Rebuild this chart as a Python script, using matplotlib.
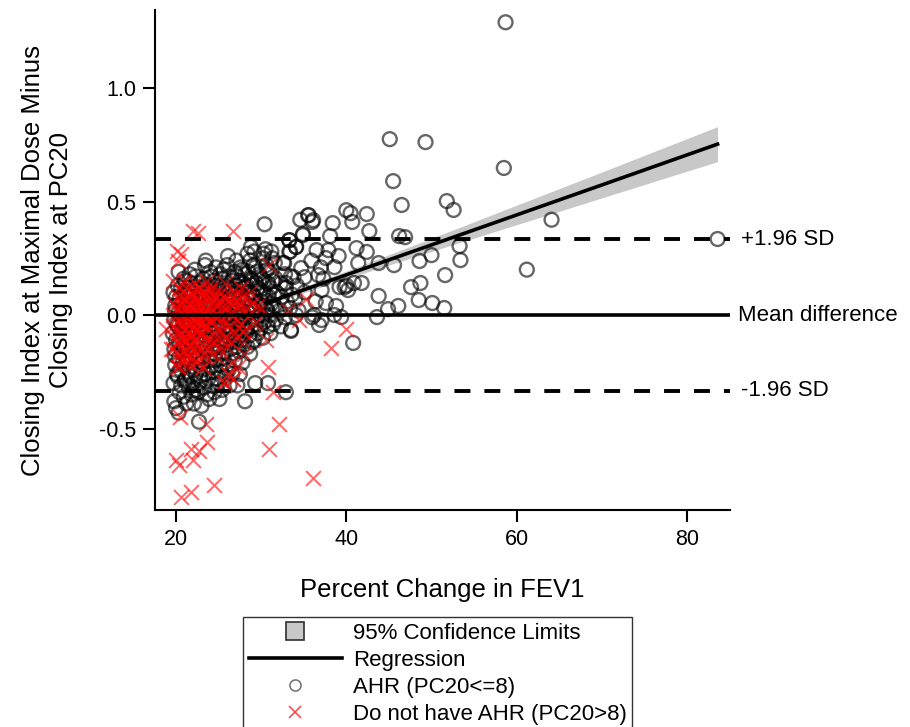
'''
Bland-Altman style plot of closing index difference vs percent change in FEV1
'''

import matplotlib
matplotlib.use('Agg')
import matplotlib.pyplot as plt
from matplotlib.lines import Line2D
from matplotlib.patches import Patch, Rectangle
from matplotlib.legend_handler import HandlerPatch

plt.rcParams['font.family'] = ['Liberation Sans', 'DejaVu Sans']

# AHR (PC20<=8) subjects, sparse points away from the main cluster
ahr_x = [58.7, 45.1, 49.3, 58.5, 45.5, 46.5, 51.8, 52.6, 64.1, 83.6, 61.2, 46.2, 46.9, 53.3,
         50.0, 53.4, 48.6, 51.6, 47.6, 48.7, 48.5, 50.1, 51.5, 46.1, 44.9, 43.8, 43.6, 45.6,
         43.8, 42.7, 42.4, 40.7, 40.0, 40.5, 38.4, 38.1, 36.1, 35.5, 34.9, 42.4, 41.2, 41.4,
         40.9, 41.8, 38.6, 37.6, 37.9, 36.5, 39.8, 40.2, 39.2, 36.7, 37.1, 37.6, 36.2, 37.1,
         38.6, 39.4, 35.1, 36.8, 35.6, 36.0, 34.9, 33.3, 34.7, 33.8, 32.7, 33.3, 34.1, 32.9,
         35.1, 37.0, 39.1, 40.0, 36.4, 38.8, 33.5, 40.8, 35.9, 37.3, 36.0, 34.4,
         19.8, 19.7, 19.9, 19.8, 19.6, 19.8, 19.9, 19.7,
         20.3, 20.4, 20.2, 20.3, 20.4, 20.2, 20.3, 20.4, 20.2, 20.3,
         20.9, 21.0, 20.8, 20.9, 21.0, 20.8, 20.9, 21.0, 20.9,
         21.5, 21.4, 21.6, 21.5, 21.4, 21.6, 21.5, 21.4, 21.6,
         22.1, 22.0, 22.2, 22.1, 22.0, 22.2, 22.1, 22.0, 22.2,
         22.7, 22.6, 22.8, 22.7, 22.6, 22.8, 22.7, 22.6, 22.8,
         23.3, 23.2, 23.4, 23.3, 23.2, 23.4, 23.3, 23.2, 23.4,
         23.9, 23.8, 24.0, 23.9, 23.8, 24.0, 23.9, 23.8, 24.0,
         24.5, 24.4, 24.6, 24.5, 24.4, 24.6, 24.5, 24.4,
         25.1, 25.0, 25.2, 25.1, 25.0, 25.2, 25.1, 25.0, 25.2,
         25.7, 25.6, 25.8, 25.7, 25.6, 25.8, 25.7, 25.6,
         26.3, 26.2, 26.4, 26.3, 26.2, 26.4, 26.3, 26.2, 26.1,
         26.9, 26.8, 27.0, 26.9, 26.8, 27.0, 26.9,
         27.5, 27.4, 27.6, 27.5, 27.4, 27.6, 27.5, 27.6,
         28.1, 28.0, 28.2, 28.1, 28.0, 28.2, 28.1, 28.8,
         28.7, 28.6, 28.8, 28.7, 28.6, 28.8, 28.7,
         29.3, 29.2, 29.4, 29.3, 29.2, 29.4, 29.3, 29.2,
         29.9, 29.8, 30.0, 29.9, 29.8, 30.2,
         30.8, 30.4, 30.6, 30.5, 30.4, 30.6, 30.5, 30.4,
         31.1, 31.0, 31.2, 31.1, 31.0, 31.2,
         31.7, 31.6, 31.8, 31.7, 31.6,
         32.3, 32.2, 32.4, 32.3, 32.6,
         32.9, 32.8, 33.0, 32.9, 32.8,
         33.5, 33.4, 33.6, 33.5, 33.4, 33.3,
         34.1, 34.0, 34.2, 34.1, 34.6]
ahr_y = [1.29, 0.775, 0.762, 0.648, 0.59, 0.485, 0.502, 0.463, 0.42, 0.335, 0.20, 0.348, 0.343, 0.304,
         0.264, 0.242, 0.238, 0.176, 0.123, 0.141, 0.066, 0.053, 0.031, 0.040, 0.026, 0.084, -0.009, 0.22,
         0.229, 0.37, 0.445, 0.41, 0.462, 0.449, 0.405, 0.348, 0.418, 0.44, 0.352, 0.278, 0.295, 0.229,
         0.141, 0.141, 0.211, 0.251, 0.286, 0.286, 0.123, 0.11, 0.123, 0.176, 0.11, 0.053, 0.0, -0.022,
         0.0, -0.009, 0.167, -0.044, 0.44, 0.41, 0.357, 0.33, 0.207, 0.167, 0.229, 0.278, 0.30, 0.141,
         0.10, 0.21, 0.26, 0.13, 0.06, 0.04, -0.066, -0.123, 0.24, 0.16, -0.01, 0.02,
         -0.38, -0.30, -0.22, -0.15, -0.08, -0.02, 0.04, 0.10,
         -0.43, -0.34, -0.27, -0.19, -0.12, -0.05, 0.01, 0.07, 0.13, 0.19,
         -0.36, -0.29, -0.21, -0.14, -0.09, -0.03, 0.03, 0.09, 0.16,
         -0.32, -0.25, -0.18, -0.11, -0.06, 0.0, 0.05, 0.12, 0.18,
         -0.39, -0.30, -0.23, -0.16, -0.08, -0.02, 0.04, 0.10, 0.20,
         -0.47, -0.34, -0.27, -0.19, -0.12, -0.05, 0.02, 0.08, 0.14,
         -0.32, -0.24, -0.15, -0.09, -0.03, 0.03, 0.09, 0.16, 0.22,
         -0.37, -0.28, -0.20, -0.12, -0.06, 0.0, 0.06, 0.12, 0.19,
         -0.34, -0.25, -0.17, -0.10, -0.04, 0.02, 0.08, 0.15,
         -0.37, -0.30, -0.22, -0.14, -0.07, 0.0, 0.05, 0.11, 0.18,
         -0.27, -0.19, -0.11, -0.05, 0.02, 0.07, 0.13, 0.20,
         -0.31, -0.24, -0.15, -0.08, -0.02, 0.04, 0.10, 0.17, 0.26,
         -0.20, -0.12, -0.05, 0.01, 0.07, 0.13, 0.19,
         -0.26, -0.16, -0.09, -0.03, 0.03, 0.09, 0.15, 0.21,
         -0.38, -0.13, -0.06, 0.0, 0.06, 0.12, 0.18, 0.30,
         -0.17, -0.09, -0.02, 0.04, 0.10, 0.16, 0.24,
         -0.30, -0.11, -0.04, 0.02, 0.08, 0.14, 0.21, 0.28,
         -0.06, 0.0, 0.06, 0.11, 0.18, 0.25,
         -0.30, -0.03, 0.03, 0.09, 0.15, 0.22, 0.29, 0.40,
         -0.08, 0.0, 0.05, 0.12, 0.19, 0.28,
         -0.02, 0.04, 0.10, 0.16, 0.23,
         -0.05, 0.02, 0.08, 0.14, 0.23,
         -0.34, -0.01, 0.06, 0.12, 0.18,
         -0.07, 0.03, 0.09, 0.17, 0.28, 0.33,
         0.0, 0.07, 0.13, 0.30, 0.42]

# AHR subjects, second pass over the crowded region (x 20-31)
ahr_core_x = [20.0, 20.1, 19.9, 20.0, 20.1, 19.9, 20.0,
              20.6, 20.5, 20.7, 20.6, 20.5, 20.7, 20.6,
              21.2, 21.1, 21.3, 21.2, 21.1, 21.3, 21.2, 21.1,
              21.8, 21.7, 21.9, 21.8, 21.7, 21.9, 21.8,
              22.4, 22.3, 22.5, 22.4, 22.3, 22.5, 22.4, 22.3,
              23.0, 22.9, 23.1, 23.0, 22.9, 23.1, 23.0, 22.9,
              23.6, 23.5, 23.7, 23.6, 23.5, 23.7, 23.6, 23.5,
              24.2, 24.1, 24.3, 24.2, 24.1, 24.3, 24.2, 24.1,
              24.8, 24.7, 24.9, 24.8, 24.7, 24.9, 24.8, 24.7,
              25.4, 25.3, 25.5, 25.4, 25.3, 25.5, 25.4, 25.3,
              26.0, 25.9, 26.1, 26.0, 25.9, 26.1, 26.0,
              26.6, 26.5, 26.7, 26.6, 26.5, 26.7, 26.6,
              27.2, 27.1, 27.3, 27.2, 27.1, 27.3, 27.2, 27.1,
              27.8, 27.7, 27.9, 27.8, 27.7, 27.9, 27.8,
              28.4, 28.3, 28.5, 28.4, 28.3, 28.5, 28.4,
              29.0, 28.9, 29.1, 29.0, 28.9, 29.1,
              29.6, 29.5, 29.7, 29.6, 29.5,
              30.2, 30.1, 30.3, 30.2, 30.1, 30.3,
              30.8, 30.7, 30.9, 30.8, 30.7,
              31.4, 31.3, 31.5, 31.4, 31.3]
ahr_core_y = [-0.41, -0.26, -0.18, -0.11, -0.04, 0.02, 0.08,
              -0.31, -0.24, -0.16, -0.07, 0.0, 0.05, 0.12,
              -0.39, -0.28, -0.20, -0.13, -0.04, 0.02, 0.09, 0.15,
              -0.35, -0.27, -0.14, -0.07, 0.02, 0.08, 0.14,
              -0.33, -0.26, -0.19, -0.11, -0.04, 0.06, 0.12, 0.17,
              -0.40, -0.29, -0.21, -0.13, -0.06, 0.0, 0.06, 0.12,
              -0.35, -0.26, -0.18, -0.11, -0.01, 0.05, 0.13, 0.24,
              -0.31, -0.23, -0.15, -0.08, -0.02, 0.04, 0.10, 0.17,
              -0.28, -0.20, -0.13, -0.06, 0.01, 0.06, 0.13, 0.21,
              -0.33, -0.25, -0.17, -0.10, -0.03, 0.04, 0.09, 0.16,
              -0.22, -0.13, -0.06, 0.0, 0.06, 0.12, 0.22,
              -0.26, -0.17, -0.10, -0.03, 0.03, 0.09, 0.15,
              -0.31, -0.14, -0.07, 0.0, 0.05, 0.11, 0.17, 0.24,
              -0.21, -0.11, -0.04, 0.02, 0.08, 0.14, 0.20,
              -0.14, -0.07, 0.01, 0.07, 0.13, 0.19, 0.27,
              -0.12, -0.05, 0.03, 0.09, 0.15, 0.22,
              -0.08, -0.01, 0.05, 0.12, 0.19,
              -0.10, -0.02, 0.04, 0.10, 0.16, 0.27,
              -0.05, 0.02, 0.08, 0.14, 0.20,
              -0.04, 0.03, 0.09, 0.15, 0.25]

# no AHR (PC20>8) subjects
noahr_x = [19.7, 19.8, 19.6, 19.7, 19.8, 19.7,
           20.2, 20.3, 20.1, 20.2, 20.3, 20.1, 20.2, 20.2, 20.1,
           20.7, 20.8, 20.6, 20.7, 20.8, 20.6, 20.7, 20.9, 20.6,
           21.2, 21.3, 21.1, 21.2, 21.3, 21.1, 21.2,
           21.7, 21.8, 21.6, 21.7, 21.8, 21.6, 21.7,
           22.2, 22.3, 22.1, 22.2, 22.3, 22.1, 22.2, 22.0,
           22.7, 22.8, 22.6, 22.7, 22.8, 22.6, 22.7, 22.6,
           23.2, 23.3, 23.1, 23.2, 23.3, 23.1, 23.2,
           23.7, 23.8, 23.6, 23.7, 23.8, 23.6,
           24.2, 24.3, 24.1, 24.2, 24.3, 24.1,
           24.7, 24.8, 24.6, 24.7, 24.8,
           25.2, 25.3, 25.1, 25.2, 25.3,
           25.6, 25.7, 25.8, 25.6, 25.7, 25.8,
           26.1, 26.5, 26.2, 26.3, 26.1,
           26.7, 26.8, 26.6, 26.7, 26.8, 26.7,
           27.3, 27.2, 27.3, 27.1,
           28.0, 27.9, 27.7, 27.8,
           28.0, 28.3, 28.4,
           29.2, 28.9,
           29.4, 29.5,
           30.0,
           30.6, 30.8,
           30.9, 31.4, 33.2, 34.5, 35.3, 40.0, 38.2, 20.5, 23.5, 32.1, 23.6, 21.8, 22.7,
           30.9, 20.0, 20.4, 22.0, 24.5, 36.1, 20.6, 21.8, 18.8, 19.4, 25.6, 20.2, 23.2,
           21.5, 20.8, 27.9, 26.1, 26.7,
           20.4, 20.5, 20.3, 20.4, 20.5, 20.4,
           20.9, 21.0, 20.9, 21.0, 20.9,
           21.4, 21.5, 21.4, 21.3, 21.4, 21.5, 21.4,
           21.9, 22.0, 21.9, 22.0, 21.9, 22.0, 21.9,
           22.4, 22.5, 22.4, 22.5, 22.4, 22.5, 22.4,
           22.9, 23.0, 22.9, 23.0, 22.9, 23.0,
           23.4, 23.5, 23.4, 23.5, 23.4, 23.5,
           23.9, 24.0, 23.9, 24.0,
           24.4, 24.5, 24.4,
           24.9, 25.0, 24.9,
           25.4, 25.5,
           26.0, 26.0,
           26.5, 26.6,
           27.0, 27.1,
           27.6, 27.5, 27.6,
           28.6, 28.7]
noahr_y = [-0.15, -0.10, -0.05, 0.0, 0.05, 0.15,
           -0.23, -0.17, -0.12, -0.07, -0.02, 0.03, 0.08, 0.24, 0.28,
           -0.20, -0.13, -0.08, -0.04, 0.0, 0.04, 0.10, 0.15, 0.27,
           -0.18, -0.11, -0.06, -0.01, 0.03, 0.07, 0.12,
           -0.22, -0.14, -0.09, -0.04, 0.0, 0.05, 0.10,
           -0.16, -0.10, -0.05, -0.01, 0.04, 0.09, 0.14, 0.37,
           -0.19, -0.12, -0.07, -0.02, 0.02, 0.06, 0.12, 0.36,
           -0.23, -0.14, -0.08, -0.03, 0.01, 0.05, 0.10,
           -0.10, -0.05, 0.0, 0.04, 0.09, 0.15,
           -0.17, -0.09, -0.03, 0.02, 0.06, 0.12,
           -0.12, -0.06, -0.01, 0.04, 0.08,
           -0.15, -0.07, 0.0, 0.05, 0.10,
           -0.30, -0.10, -0.04, 0.02, 0.07, 0.14,
           -0.26, -0.21, -0.05, 0.01, 0.06,
           -0.28, -0.08, 0.0, 0.05, 0.11, 0.37,
           -0.23, -0.02, 0.04, 0.09,
           -0.17, -0.07, 0.02, 0.08,
           -0.12, 0.03, 0.07,
           -0.04, 0.05,
           -0.03, 0.04,
           0.03,
           -0.11, -0.23,
           0.22, -0.34, 0.02, -0.02, 0.07, -0.06, -0.145, -0.45, -0.48, -0.48, -0.56, -0.59, -0.60,
           -0.59, -0.64, -0.66, -0.64, -0.75, -0.72, -0.80, -0.78, -0.06, -0.15, -0.295, -0.23, -0.23,
           -0.18, -0.10, -0.075, -0.26, -0.28,
           -0.20, -0.10, -0.04, 0.01, 0.06, 0.12,
           -0.16, -0.11, -0.06, 0.02, 0.07,
           -0.21, -0.14, -0.08, -0.03, 0.01, 0.05, 0.09,
           -0.18, -0.12, -0.06, -0.02, 0.03, 0.07, 0.13,
           -0.21, -0.13, -0.07, -0.03, 0.01, 0.06, 0.11,
           -0.15, -0.09, -0.04, 0.0, 0.04, 0.09,
           -0.18, -0.11, -0.05, 0.02, 0.07, 0.12,
           -0.14, -0.02, 0.06, 0.11,
           -0.12, 0.0, 0.09,
           -0.19, -0.03, 0.06,
           -0.11, 0.08,
           -0.14, 0.04,
           -0.12, 0.08,
           -0.10, 0.06,
           -0.04, 0.05, 0.12,
           0.0, 0.10]

# regression line and its 95% confidence band
reg_x = [30.6, 40.0, 50.0, 60.0, 70.0, 83.6]
reg_y = [0.053, 0.177, 0.309, 0.441, 0.573, 0.753]
reg_lo = [0.043, 0.160, 0.280, 0.398, 0.516, 0.676]
reg_hi = [0.063, 0.194, 0.338, 0.484, 0.630, 0.830]

mean_diff = 0.0
upper_loa = 0.333
lower_loa = -0.333


def small_square(legend, orig_handle, xdescent, ydescent, width, height, fontsize):
    # legend box glyph is a small square centred in the handle area
    side = 13.0
    return Rectangle((-xdescent + width / 2.0 - side / 2.0, -ydescent + height / 2.0 - side / 2.0),
                     side, side)


def main():
    fig = plt.figure(figsize=(9.1, 7.27), dpi=100)
    ax = fig.add_axes([155 / 910, 1 - 510 / 727, 575 / 910, 500 / 727])

    ax.fill_between(reg_x, reg_lo, reg_hi, color='#c8c8c8', lw=0, zorder=1)

    ax.scatter(ahr_x + ahr_core_x, ahr_y + ahr_core_y, s=100, facecolors='none',
               edgecolors='black', linewidths=1.7, alpha=0.6, zorder=2)
    ax.scatter(noahr_x, noahr_y, s=115, marker='x', color='red',
               linewidths=1.4, alpha=0.6, zorder=3)

    ax.axhline(mean_diff, color='black', lw=2.6, zorder=4)
    ax.axhline(upper_loa, color='black', lw=2.8, ls=(0, (4.1, 3.6)), zorder=4)
    ax.axhline(lower_loa, color='black', lw=2.8, ls=(0, (4.1, 3.6)), zorder=4)
    ax.plot(reg_x, reg_y, color='black', lw=2.6, zorder=5)

    ax.set_xlim(17.53, 85.06)
    ax.set_ylim(-0.859, 1.344)
    ax.set_xticks([20, 40, 60, 80])
    ax.set_yticks([-0.5, 0.0, 0.5, 1.0])
    ax.set_yticklabels(['-0.5', '0.0', '0.5', '1.0'])
    ax.spines['top'].set_visible(False)
    ax.spines['right'].set_visible(False)
    ax.spines['left'].set_linewidth(1.5)
    ax.spines['bottom'].set_linewidth(1.5)
    ax.tick_params(labelsize=15.5, width=1.5, length=8.5, pad=5)

    ax.text(86.3, upper_loa, '+1.96 SD', fontsize=16, va='center', ha='left', clip_on=False)
    ax.text(86.0, mean_diff, 'Mean difference', fontsize=16, va='center', ha='left', clip_on=False)
    ax.text(86.3, lower_loa, '-1.96 SD', fontsize=16, va='center', ha='left', clip_on=False)

    ax.set_xlabel('Percent Change in FEV1', fontsize=18.5, labelpad=20)
    ax.set_ylabel('Closing Index at Maximal Dose Minus\nClosing Index at PC20', fontsize=18.5,
                  labelpad=19)

    ci_handle = Patch(facecolor='#c8c8c8', edgecolor='#303030', lw=1.2)
    handles = [
        ci_handle,
        Line2D([], [], color='black', lw=2.6),
        Line2D([], [], ls='none', marker='o', markerfacecolor='none',
               markeredgecolor='#707070', markersize=8, markeredgewidth=1.1),
        Line2D([], [], ls='none', marker='x', color='#ff4040',
               markersize=8.5, markeredgewidth=1.1),
    ]
    labels = ['95% Confidence Limits', 'Regression', 'AHR (PC20<=8)',
              'Do not have AHR (PC20>8)']
    leg = fig.legend(handles, labels, loc='upper left',
                     bbox_to_anchor=(243 / 910, 1 - 617 / 727),
                     fontsize=16, frameon=True, fancybox=False,
                     edgecolor='black', handlelength=4.2, handleheight=0.7,
                     labelspacing=0.27, borderpad=0.25, handletextpad=0.5,
                     borderaxespad=0, handler_map={ci_handle: HandlerPatch(patch_func=small_square)})
    leg.get_frame().set_linewidth(1.0)

    fig.savefig('out.png', dpi=100)


main()
